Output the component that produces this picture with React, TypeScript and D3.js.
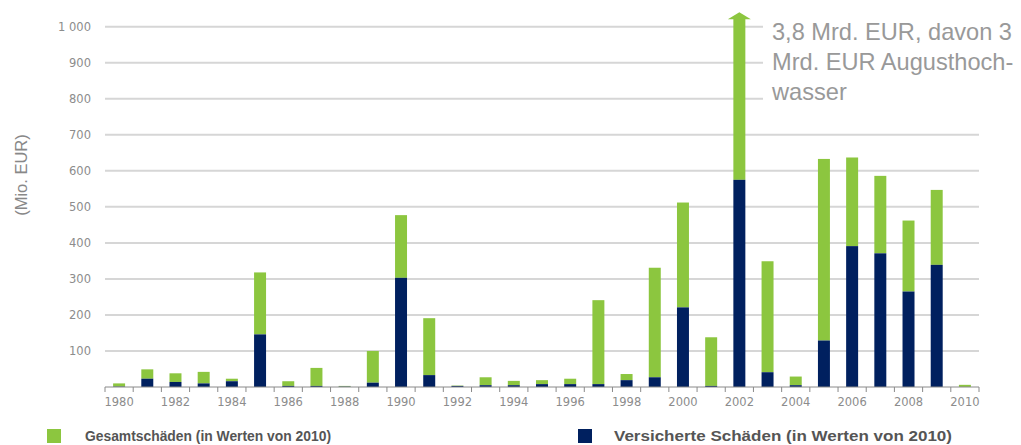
import React from "react";
import * as d3 from "d3";

const years: number[] = [1980, 1981, 1982, 1983, 1984, 1985, 1986, 1987, 1988, 1989, 1990, 1991, 1992, 1993, 1994, 1995, 1996, 1997, 1998, 1999, 2000, 2001, 2002, 2003, 2004, 2005, 2006, 2007, 2008, 2009, 2010];
// Gesamtschäden (Mio. EUR, in Werten von 2010)
const totalDamage: number[] = [10, 49, 38, 42, 23, 318, 16, 53, 3, 100, 477, 191, 4, 27, 17, 19, 23, 241, 36, 331, 512, 138, 3800, 349, 29, 633, 637, 586, 462, 547, 6];
// Versicherte Schäden (Mio. EUR, in Werten von 2010)
const insuredDamage: number[] = [1, 23, 14, 10, 16, 146, 3, 3, 1, 12, 303, 33, 3, 5, 5, 8, 8, 8, 19, 27, 221, 3, 575, 41, 5, 129, 391, 371, 265, 339, 0];
const yTicks: number[] = [100, 200, 300, 400, 500, 600, 700, 800, 900, 1000];
const xTickLabels: number[] = [1980, 1982, 1984, 1986, 1988, 1990, 1992, 1994, 1996, 1998, 2000, 2002, 2004, 2006, 2008, 2010];
const annotationLines: string[] = ["3,8 Mrd. EUR, davon 3", "Mrd. EUR Augusthoch-", "wasser"];
const legendLabels: string[] = ["Gesamtschäden (in Werten von 2010)", "Versicherte Schäden (in Werten von 2010)"];
const yAxisTitle = "(Mio. EUR)";

const GREEN = "#8cc63f";
const NAVY = "#00205f";

export default function App() {
  const W = 1021, H = 445;
  const left = 105, right = 979, bottom = 387, top = 26.7;
  const x = d3.scaleBand<number>().domain(years).range([left, right]).paddingInner(0.575).paddingOuter(0.2875);
  const y = d3.scaleLinear().domain([0, 1000]).range([bottom, top]);
  const cap = 1022;
  const step = x.step();
  const fmt = (v: number) => d3.format(",")(v).replace(",", " ");
  const font = "'Liberation Sans', Arial, sans-serif";

  return (
    <svg width={W} height={H} style={{ position: "absolute", left: 0, top: 0, background: "#fff" }} fontFamily={font}>
      {/* gridlines */}
      {yTicks.map((t) => (
        <line key={t} x1={left} x2={t >= 800 ? 763 : right} y1={y(t)} y2={y(t)} stroke="#d6d6d6" strokeWidth={2} />
      ))}
      {/* y labels */}
      {yTicks.map((t) => (
        <text key={t} x={91} y={y(t)} dy="0.35em" textAnchor="end" fontSize={11.5} fill="#8c8c8c" fontFamily="'DejaVu Sans', sans-serif">
          {fmt(t)}
        </text>
      ))}
      <text transform={`translate(21,175) rotate(-90)`} textAnchor="middle" dy="0.35em" fontSize={16.5} fill="#888">
        {yAxisTitle}
      </text>
      {/* bars */}
      {years.map((yr, i) => {
        const x0 = x(yr)!;
        const w = x.bandwidth();
        const tot = Math.min(totalDamage[i], cap);
        const ins = insuredDamage[i];
        return (
          <g key={yr}>
            <rect x={x0} width={w} y={y(tot)} height={y(ins) - y(tot)} fill={GREEN} />
            <rect x={x0} width={w} y={y(ins)} height={y(0) - y(ins)} fill={NAVY} />
            {totalDamage[i] > cap && (
              <path d={`M${x0 - 5.5},${y(cap) + 0.5} L${x0 + w / 2},${y(cap) - 6.5} L${x0 + w + 5.5},${y(cap) + 0.5} Z`} fill={GREEN} />
            )}
          </g>
        );
      })}
      {/* x axis */}
      <line x1={left} x2={right} y1={bottom} y2={bottom} stroke="#8a8a8a" strokeWidth={1} />
      {d3.range(years.length + 1).map((i) => (
        <line key={i} x1={left + i * step} x2={left + i * step} y1={bottom} y2={bottom + 5} stroke="#8a8a8a" strokeWidth={1} />
      ))}
      {xTickLabels.map((yr) => (
        <text key={yr} x={x(yr)! + x.bandwidth() / 2} y={402} dy="0.35em" textAnchor="middle" fontSize={11.5} fill="#8c8c8c" fontFamily="'DejaVu Sans', sans-serif">
          {yr}
        </text>
      ))}
      {/* annotation */}
      {annotationLines.map((l, i) => (
        <text key={i} x={772} y={39.5 + i * 30} fontSize={23.6} fill="#999">
          {l}
        </text>
      ))}
      {/* legend */}
      <rect x={47} y={429} width={14} height={14} fill={GREEN} />
      <text x={85} y={441} fontSize={14} fontWeight="bold" fill="#555" textLength={246} lengthAdjust="spacingAndGlyphs">{legendLabels[0]}</text>
      <rect x={578} y={429} width={14} height={14} fill={NAVY} />
      <text x={614} y={441} fontSize={14} fontWeight="bold" fill="#555" textLength={338} lengthAdjust="spacingAndGlyphs">{legendLabels[1]}</text>
    </svg>
  );
}
